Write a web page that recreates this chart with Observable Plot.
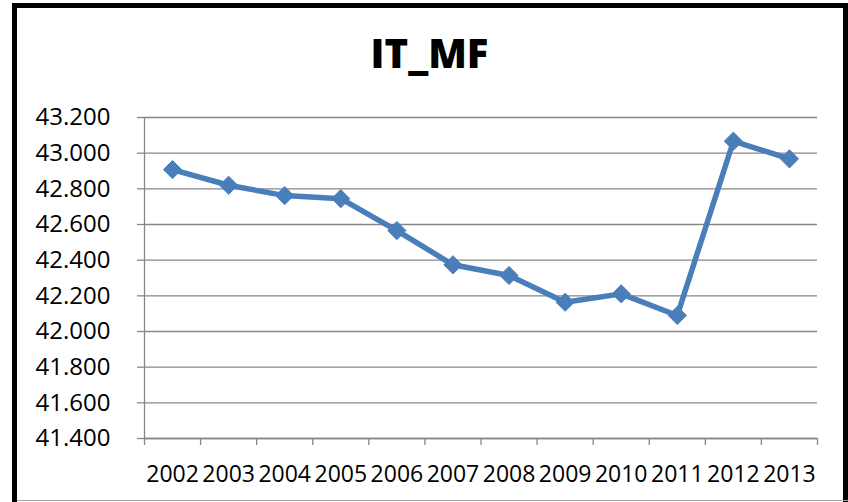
<!DOCTYPE html>
<html>
<head>
<meta charset="utf-8">
<script src="https://cdn.jsdelivr.net/npm/d3@7"></script>
<script src="https://cdn.jsdelivr.net/npm/@observablehq/plot@0.6"></script>
<style>
  html, body { margin: 0; padding: 0; background: #fff; }
  #wrap { position: relative; width: 848px; height: 502px; overflow: hidden; background: #fff; }
  #frame { position: absolute; left: 12px; top: 3px; width: 826px; height: 540px;
           border: 5px solid #000; box-sizing: content-box; }
  #bottomline { position: absolute; left: 17px; right: 0; top: 500px; height: 1px; background: #a6a6a6; }
  #title { position: absolute; left: 0; width: 859px; top: 33px; text-align: center;
           font-family: "Open Sans", sans-serif; font-weight: 800; font-size: 40px; line-height: 40px; color: #000; }
  #chart { position: absolute; left: 0; top: 0; }
</style>
</head>
<body>
<div id="wrap">
  <div id="frame"></div>
  <div id="bottomline"></div>
  <div id="chart"></div>
  <div id="title">IT_MF</div>
</div>
<script>
const title = "IT_MF";
const years = [2002, 2003, 2004, 2005, 2006, 2007, 2008, 2009, 2010, 2011, 2012, 2013];
const values = [42.908, 42.820, 42.762, 42.745, 42.566, 42.374, 42.314, 42.164, 42.211, 42.090, 43.067, 42.968];
const yTicks = [41.4, 41.6, 41.8, 42.0, 42.2, 42.4, 42.6, 42.8, 43.0, 43.2];

const data = years.map((year, i) => ({year, value: values[i]}));
const boundaries = [...years.map(y => y - 0.5), years[years.length - 1] + 0.5];

const gray = "#878787";
const blue = "#4A7EBB";
const font = "Open Sans, sans-serif";

const chart = Plot.plot({
  width: 848,
  height: 502,
  marginLeft: 144,
  marginRight: 31,
  marginTop: 117,
  marginBottom: 64,
  style: { fontFamily: font, fontSize: "24px", background: "transparent", overflow: "visible" },
  x: { type: "linear", domain: [boundaries[0], boundaries[boundaries.length - 1]] },
  y: { domain: [41.4, 43.2] },
  marks: [
    Plot.gridY(yTicks, { stroke: gray, strokeOpacity: 1, strokeWidth: 1.3 }),
    Plot.ruleX([boundaries[0]], { stroke: gray, strokeWidth: 1.3 }),
    Plot.ruleY([41.4], { stroke: gray, strokeWidth: 1.3 }),
    Plot.axisY(yTicks, {
      tickSize: 7, tickPadding: 27, stroke: gray, strokeWidth: 1.3,
      tickFormat: d => d.toFixed(3), fontSize: 24, fill: "#000", label: null
    }),
    Plot.axisX(boundaries, {
      tickSize: 7, tickFormat: () => "", stroke: gray, strokeWidth: 1.3, label: null
    }),
    Plot.axisX(years, {
      tickSize: 0, tickPadding: 27, tickFormat: d => String(d), fontSize: 23, fill: "#000", label: null
    }),
    Plot.line(data, { x: "year", y: "value", stroke: blue, strokeWidth: 5.5, strokeLinejoin: "round" }),
    Plot.dot(data, { x: "year", y: "value", symbol: "diamond2", r: 8.2, fill: blue, stroke: blue, strokeWidth: 1 })
  ]
});
document.getElementById("chart").appendChild(chart);
</script>
</body>
</html>
